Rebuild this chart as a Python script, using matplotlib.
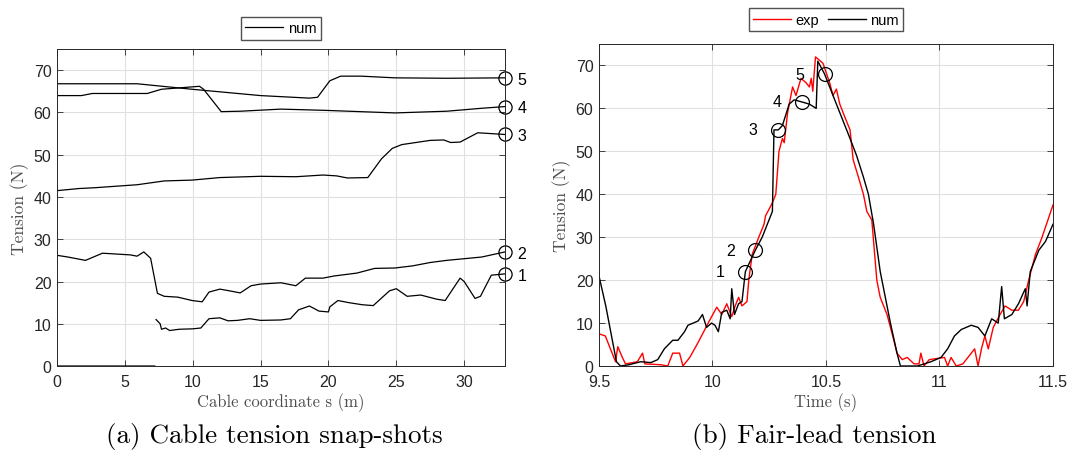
import numpy as np
import matplotlib
matplotlib.use('Agg')
import matplotlib.pyplot as plt

plt.rcParams['font.family'] = ['Liberation Sans', 'DejaVu Sans']

# (a) cable tension snap-shots, tension along cable coordinate s
s1 = [0, 7.2, np.nan, 7.3, 7.6, 7.7, 8.0, 8.3, 9.0, 10.0, 10.6, 11.2, 12.0, 12.6, 13.3, 14.2, 15.0,
      16.5, 17.2, 17.8, 18.6, 19.3, 20.0, 20.1, 20.7, 21.5, 22.5, 23.3, 24.5, 25.0, 25.8, 26.8,
      28.0, 28.6, 29.7, 30.0, 30.8, 31.2, 32.0, 33.0]
T1 = [0, 0, np.nan, 11, 10.0, 8.7, 9.0, 8.4, 8.7, 8.8, 9.0, 11.2, 11.4, 10.7, 10.8, 11.2, 10.8,
      10.9, 11.2, 13.3, 14.2, 13.0, 12.8, 14.0, 15.5, 15.0, 14.5, 14.3, 17.8, 18.3, 16.5, 16.8,
      15.8, 15.5, 20.8, 20.0, 16.0, 16.5, 21.5, 21.8]
s2 = [0, 0.8, 2.1, 3.35, 5.4, 5.9, 6.4, 6.9, 7.4, 7.9, 8.9, 9.95, 10.7, 11.2, 12.0, 12.7, 13.5, 14.3,
      15.0, 16.5, 17.6, 18.3, 19.6, 20.4, 22.1, 23.4, 24.9, 26.2, 27.5, 28.7, 31.3, 33.0]
T2 = [26.2, 25.8, 25.0, 26.7, 26.3, 26.0, 27.0, 25.5, 17.2, 16.5, 16.3, 15.5, 15.2, 17.5, 18.2, 17.8,
      17.3, 19.0, 19.4, 19.7, 19.0, 20.8, 20.8, 21.3, 22.0, 23.1, 23.2, 23.7, 24.5, 25.0, 25.8, 27.0]
s3 = [0, 1.6, 2.8, 5.9, 7.9, 9.95, 12.0, 15.0, 17.6, 19.6, 20.6, 21.4, 22.9, 23.9, 24.7, 25.4, 27.5,
      28.5, 29.0, 29.7, 31.0, 33.0]
T3 = [41.5, 42.0, 42.2, 42.9, 43.8, 44.0, 44.6, 44.9, 44.8, 45.2, 45.0, 44.5, 44.6, 49.0, 51.5, 52.4,
      53.4, 53.5, 52.9, 53.0, 55.2, 54.8]
s4 = [0, 1.8, 2.6, 6.65, 7.7, 8.9, 10.5, 10.8, 12.1, 13.5, 16.5, 19.8, 24.9, 28.7, 31.3, 33.0]
T4 = [64.0, 64.0, 64.5, 64.5, 65.5, 65.8, 66.2, 65.5, 60.2, 60.3, 60.8, 60.5, 59.9, 60.3, 61.0, 61.4]
s5 = [0, 5.9, 9.95, 15.0, 18.6, 19.2, 20.1, 20.9, 22.4, 24.9, 28.7, 33.0]
T5 = [66.8, 66.8, 65.5, 64.0, 63.4, 63.6, 67.5, 68.6, 68.6, 68.2, 68.1, 68.2]

# (b) fair-lead tension time series
t_exp = [9.500, 9.528, 9.558, 9.573, 9.583, 9.603, 9.617, 9.669, 9.692, 9.702, 9.773, 9.803, 9.825,
         9.855, 9.870, 9.900, 9.937, 9.981, 10.019, 10.041, 10.063, 10.085, 10.100, 10.115, 10.130,
         10.152, 10.160, 10.175, 10.204, 10.227, 10.234, 10.264, 10.279, 10.293, 10.308, 10.316,
         10.331, 10.353, 10.368, 10.390, 10.412, 10.427, 10.435, 10.442, 10.454, 10.487, 10.516,
         10.531, 10.546, 10.561, 10.583, 10.606, 10.620, 10.643, 10.665, 10.680, 10.702, 10.724,
         10.739, 10.769, 10.799, 10.813, 10.836, 10.858, 10.888, 10.910, 10.918, 10.932, 10.955,
         11.022, 11.036, 11.051, 11.074, 11.103, 11.155, 11.170, 11.185, 11.200, 11.215, 11.237,
         11.267, 11.289, 11.319, 11.348, 11.371, 11.393, 11.423, 11.452, 11.500]
F_exp = [7.5, 7.0, 3.0, 1.0, 4.5, 2.0, 0.5, 1.0, 3.0, 0.5, 0.3, 0.0, 3.0,
         3.0, 0.0, 2.0, 5.5, 10.0, 13.7, 12.0, 14.5, 11.5, 14.0, 16.0, 14.0,
         15.0, 20.0, 26.0, 30.0, 33.0, 35.0, 38.0, 40.0, 50.0, 53.0, 52.0,
         59.0, 65.0, 63.0, 67.0, 66.0, 65.0, 67.0, 64.0, 72.0, 70.5, 66.0,
         63.0, 64.5, 61.0, 58.0, 55.0, 48.0, 44.0, 40.0, 36.0, 34.0, 20.0,
         16.0, 12.0, 6.0, 3.0, 1.5, 2.0, 0.5, 0.5, 3.0, 0.0, 1.5,
         2.0, 0.0, 2.0, 0.0, 0.5, 4.0, 0.0, 4.0, 7.0, 4.0, 9.0,
         12.0, 14.0, 13.0, 13.0, 15.0, 20.0, 26.0, 30.0, 37.5]
t_num = [9.500, 9.530, 9.577, 9.595, 9.632, 9.684, 9.729, 9.759, 9.788, 9.825, 9.848, 9.877, 9.892,
         9.915, 9.937, 9.956, 9.974, 9.996, 10.011, 10.026, 10.041, 10.063, 10.078, 10.085, 10.097,
         10.115, 10.130, 10.145, 10.189, 10.219, 10.264, 10.271, 10.290, 10.308, 10.338, 10.360,
         10.394, 10.427, 10.457, 10.464, 10.494, 10.546, 10.576, 10.606, 10.635, 10.665, 10.687,
         10.710, 10.739, 10.784, 10.813, 10.828, 10.903, 10.962, 11.007, 11.036, 11.066, 11.096,
         11.140, 11.170, 11.200, 11.230, 11.259, 11.274, 11.286, 11.319, 11.348, 11.378, 11.386,
         11.400, 11.438, 11.467, 11.500]
F_num = [21.0, 14.0, 1.0, 0.0, 0.3, 1.0, 0.8, 1.5, 4.0, 6.0, 6.0, 8.0, 9.5,
         10.0, 10.5, 12.0, 9.0, 10.0, 9.5, 8.0, 12.5, 13.0, 11.0, 18.0, 12.0,
         14.5, 15.0, 22.0, 27.0, 30.0, 36.0, 55.0, 55.0, 56.0, 61.0, 62.0,
         61.5, 61.0, 60.0, 71.0, 68.0, 61.0, 57.0, 53.0, 49.0, 44.0, 40.0,
         33.0, 22.0, 10.0, 3.0, 0.0, 0.0, 1.0, 2.0, 4.0, 7.0, 8.5,
         9.5, 9.0, 7.0, 11.0, 10.0, 18.5, 11.0, 12.0, 14.5, 18.0, 14.0,
         22.0, 27.0, 29.0, 33.0]

snap_labels = ['1', '2', '3', '4', '5']
snap_times = [10.145, 10.189, 10.290, 10.394, 10.494]
snap_tension = [22.0, 27.0, 55.0, 61.5, 68.0]

serif = 'cmr10'
label_color = '#4d4d4d'
spine_color = '#262626'
grid_color = '#e0e0e0'

fig = plt.figure(figsize=(10.69, 4.64), dpi=100)
ax1 = fig.add_axes([0.0533, 0.209, 0.419, 0.683])
ax2 = fig.add_axes([0.5603, 0.209, 0.4247, 0.694])


def style(ax):
    ax.grid(True, color=grid_color, linewidth=0.8)
    ax.set_axisbelow(True)
    ax.tick_params(direction='in', top=True, right=True, length=4, width=0.6,
                   labelsize=11.5, colors=spine_color)
    ax.tick_params(axis='x', pad=6)
    ax.tick_params(axis='y', pad=4)
    for sp in ax.spines.values():
        sp.set_color(spine_color)
        sp.set_linewidth(0.7)
    ax.set_ylim(0, 75)
    ax.set_yticks(np.arange(0, 71, 10))


# left panel
curves = [(s1, T1), (s2, T2), (s3, T3), (s4, T4), (s5, T5)]
for i, (s, T) in enumerate(curves):
    ax1.plot(s, T, color='black', linewidth=0.9, label='num' if i == 0 else None)
    ax1.plot(s[-1], T[-1], 'o', mfc='none', mec='black', ms=9.5, mew=0.9, clip_on=False)
    ax1.annotate(snap_labels[i], (s[-1], T[-1]), xytext=(9, -1), textcoords='offset points',
                 ha='left', va='center', fontsize=11.5, annotation_clip=False)
style(ax1)
ax1.set_xlim(0, 33)
ax1.set_xticks(np.arange(0, 31, 5))
ax1.set_xlabel('Cable coordinate s (m)', family=serif, fontsize=12, color=label_color, labelpad=2)
ax1.set_ylabel('Tension (N)', family=serif, fontsize=12.5, color=label_color, labelpad=3)
ax1.legend(loc='lower center', bbox_to_anchor=(0.5, 1.03), fontsize=10.5, frameon=True,
           fancybox=False, edgecolor=spine_color, handlelength=2.6, handletextpad=0.3,
           borderpad=0.3, borderaxespad=0)

# right panel
ax2.plot(t_exp, F_exp, color='red', linewidth=1.0, label='exp')
ax2.plot(t_num, F_num, color='black', linewidth=1.0, label='num')
ax2.plot(snap_times, snap_tension, 'o', mfc='none', mec='black', ms=10, mew=0.9, linestyle='none')
for lab, tt, ff in zip(snap_labels, snap_times, snap_tension):
    ax2.annotate(lab, (tt, ff), xytext=(-18, 0), textcoords='offset points',
                 ha='center', va='center', fontsize=11.5)
style(ax2)
ax2.set_xlim(9.5, 11.5)
ax2.set_xticks([9.5, 10, 10.5, 11, 11.5])
ax2.set_xticklabels(['9.5', '10', '10.5', '11', '11.5'])
ax2.set_xlabel('Time (s)', family=serif, fontsize=12, color=label_color, labelpad=2)
ax2.set_ylabel('Tension (N)', family=serif, fontsize=12.5, color=label_color, labelpad=3)
ax2.legend(loc='lower center', bbox_to_anchor=(0.5, 1.04), ncol=2, fontsize=10.5, frameon=True,
           fancybox=False, edgecolor=spine_color, handlelength=2.6, handletextpad=0.3,
           columnspacing=0.6, borderpad=0.3, borderaxespad=0)

fig.text(0.257, 0.06, '(a) Cable tension snap-shots', family=serif, fontsize=19.5,
         ha='center', va='center')
fig.text(0.762, 0.06, '(b) Fair-lead tension', family=serif, fontsize=19.5,
         ha='center', va='center')

fig.savefig('out.png', dpi=100)
